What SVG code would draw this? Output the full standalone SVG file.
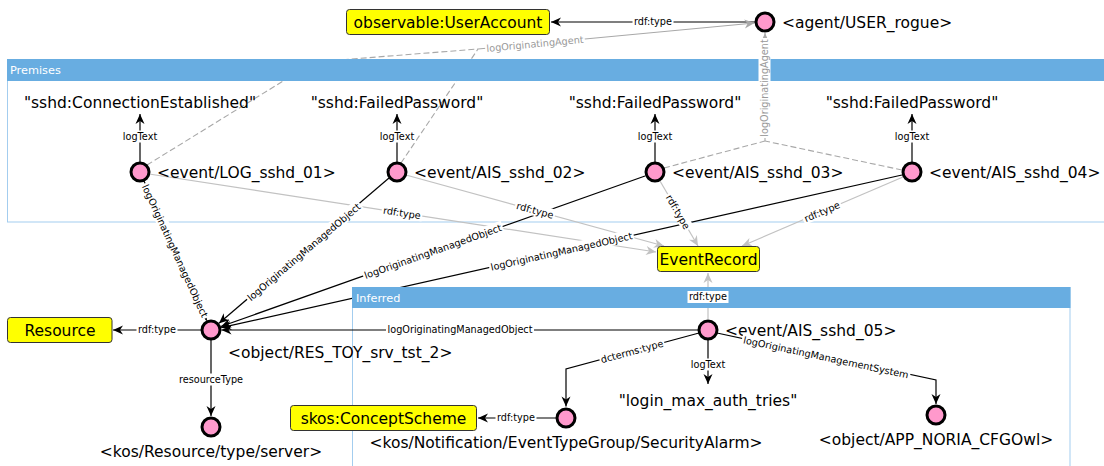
<svg xmlns="http://www.w3.org/2000/svg" width="1104" height="466" viewBox="0 0 1104 466">
<style>
text{font-family:"DejaVu Sans","Liberation Sans",sans-serif;fill:#000}
.nl{font-size:15.5px}
.bl{font-size:15.5px;text-anchor:middle}
.el{font-size:9.7px;text-anchor:middle}
.ga{fill:#999}
.cl{font-size:11.3px;fill:#fff}
.e{stroke:#000;stroke-width:1.2;fill:none}
.g{stroke:#c2c2c2;stroke-width:1.2;fill:none}
.d{stroke:#a8a8a8;stroke-width:1.1;fill:none;stroke-dasharray:6 3}
.s{stroke:#a8a8a8;stroke-width:1.1;fill:none}
.n{fill:#ff99cc;stroke:#000;stroke-width:3}
.b{fill:#ffff00;stroke:#333;stroke-width:1}
.bg{fill:#fff}
.cb{fill:none;stroke:#a3cdef;stroke-width:1}
.ch{fill:#68ade1}
</style>
<defs>
<marker id="ab" viewBox="-11 -6 12 12" refX="0" refY="0" markerWidth="12" markerHeight="12" markerUnits="userSpaceOnUse" orient="auto"><path d="M0,0 L-10,-4.5 L-7,0 L-10,4.5 Z" fill="#000"/></marker>
<marker id="ag" viewBox="-11 -6 12 12" refX="0" refY="0" markerWidth="12" markerHeight="12" markerUnits="userSpaceOnUse" orient="auto"><path d="M0,0 L-10,-4.5 L-7,0 L-10,4.5 Z" fill="#c2c2c2"/></marker>
<marker id="aa" viewBox="-11 -6 12 12" refX="0" refY="0" markerWidth="12" markerHeight="12" markerUnits="userSpaceOnUse" orient="auto"><path d="M0,0 L-10,-4.5 L-7,0 L-10,4.5 Z" fill="#a8a8a8"/></marker>
</defs>

<g id="cluster-borders">
<rect class="cb" x="7.5" y="59.5" width="1110" height="162.5"/>
<rect class="cb" x="352.5" y="287.5" width="717.5" height="200"/>
</g>

<g id="connectors">
<path class="e" d="M755,22 L551,22" marker-end="url(#ab)"/>
<path class="d" d="M147,165 L314,62 L478,49"/>
<path class="d" d="M401,163 L478,49"/>
<path class="s" d="M478,49 L754.5,23" marker-end="url(#aa)"/>
<path class="d" d="M664,168 L765,141"/>
<path class="d" d="M902,170 L765,141"/>
<path class="s" d="M765,141 L765,33" marker-end="url(#aa)"/>
<path class="e" d="M140,162 L140,114" marker-end="url(#ab)"/>
<path class="e" d="M397,162 L397,114" marker-end="url(#ab)"/>
<path class="e" d="M655,162 L655,114" marker-end="url(#ab)"/>
<path class="e" d="M912,162 L912,114" marker-end="url(#ab)"/>
<path class="g" d="M149,174 L656,252" marker-end="url(#ag)"/>
<path class="g" d="M406,175 L664,246" marker-end="url(#ag)"/>
<path class="g" d="M660,181 L698,246" marker-end="url(#ag)"/>
<path class="g" d="M903,177 L742,246" marker-end="url(#ag)"/>
<path class="g" d="M708,319 L708,273" marker-end="url(#ag)"/>
<path class="e" d="M144,181 L206.6,320.5" marker-end="url(#ab)"/>
<path class="e" d="M389,178 L219,323.2" marker-end="url(#ab)"/>
<path class="e" d="M645,176 L220.9,326.5" marker-end="url(#ab)"/>
<path class="e" d="M902,175 L221.2,327.7" marker-end="url(#ab)"/>
<path class="e" d="M698,330 L221.5,330" marker-end="url(#ab)"/>
<path class="e" d="M201,330 L113,330" marker-end="url(#ab)"/>
<path class="e" d="M211,340 L211,416" marker-end="url(#ab)"/>
<path class="e" d="M708,340 L708,384" marker-end="url(#ab)"/>
<path class="e" d="M699,333 L566,369 L566,406.5" marker-end="url(#ab)"/>
<path class="e" d="M717,333 L936,380 L936,404" marker-end="url(#ab)"/>
<path class="e" d="M556,418 L478,418" marker-end="url(#ab)"/>
</g>

<g id="cluster-headers">
<rect class="ch" x="7" y="59" width="1111" height="22"/>
<text class="cl" x="10" y="73.5">Premises</text>
<rect class="ch" x="352" y="287" width="718.5" height="21"/>
<text class="cl" x="356" y="301.5">Inferred</text>
</g>

<g id="n-useraccount"><rect class="b" x="346.5" y="9.5" width="203" height="25" rx="3"/><text class="bl" x="448" y="27.5">observable:UserAccount</text></g>
<g id="n-user-rogue"><circle class="n" cx="765" cy="22" r="9"/><text class="nl" x="782" y="27.5">&lt;agent/USER_rogue&gt;</text></g>

<g id="n-lit1"><text class="bl" x="140" y="108">"sshd:ConnectionEstablished"</text></g>
<g id="n-lit2"><text class="bl" x="397" y="108">"sshd:FailedPassword"</text></g>
<g id="n-lit3"><text class="bl" x="655" y="108">"sshd:FailedPassword"</text></g>
<g id="n-lit4"><text class="bl" x="912" y="108">"sshd:FailedPassword"</text></g>

<g id="n-log01"><circle class="n" cx="140" cy="172" r="9"/><text class="nl" x="157" y="178">&lt;event/LOG_sshd_01&gt;</text></g>
<g id="n-ais02"><circle class="n" cx="397" cy="172" r="9"/><text class="nl" x="414" y="178">&lt;event/AIS_sshd_02&gt;</text></g>
<g id="n-ais03"><circle class="n" cx="655" cy="172" r="9"/><text class="nl" x="672" y="178">&lt;event/AIS_sshd_03&gt;</text></g>
<g id="n-ais04"><circle class="n" cx="912" cy="172" r="9"/><text class="nl" x="929" y="178">&lt;event/AIS_sshd_04&gt;</text></g>

<g id="n-eventrecord"><rect class="b" x="657.5" y="246.5" width="102" height="25" rx="3"/><text class="bl" x="708.5" y="264.5">EventRecord</text></g>
<g id="n-resource"><rect class="b" x="7.5" y="317.5" width="104.5" height="25" rx="3"/><text class="bl" x="60" y="335.5">Resource</text></g>
<g id="n-res-toy"><circle class="n" cx="211" cy="330" r="9"/><text class="nl" x="228" y="358">&lt;object/RES_TOY_srv_tst_2&gt;</text></g>
<g id="n-server"><circle class="n" cx="211" cy="427" r="9"/><text class="bl" x="211" y="457">&lt;kos/Resource/type/server&gt;</text></g>
<g id="n-ais05"><circle class="n" cx="708" cy="330" r="9"/><text class="nl" x="725" y="336">&lt;event/AIS_sshd_05&gt;</text></g>
<g id="n-lit5"><text class="bl" x="708" y="406">"login_max_auth_tries"</text></g>
<g id="n-secalarm"><circle class="n" cx="566" cy="418" r="9"/><text class="bl" x="566" y="447.5">&lt;kos/Notification/EventTypeGroup/SecurityAlarm&gt;</text></g>
<g id="n-skos"><rect class="b" x="290.5" y="405.5" width="186" height="25" rx="3"/><text class="bl" x="383.5" y="423.5">skos:ConceptScheme</text></g>
<g id="n-app"><circle class="n" cx="936" cy="415" r="9"/><text class="bl" x="936" y="445">&lt;object/APP_NORIA_CFGOwl&gt;</text></g>

<g id="edge-labels">
<g transform="translate(653,22)"><rect class="bg" x="-20.5" y="-6.5" width="41" height="12"/><text class="el" y="3.4">rdf:type</text></g>
<g transform="translate(535,44) rotate(-5.3)"><rect class="bg" x="-50" y="-6.5" width="100" height="12"/><text class="el ga" y="3.4">logOriginatingAgent</text></g>
<g transform="translate(765,88) rotate(-90)"><rect class="bg" x="-50" y="-6.5" width="100" height="12"/><text class="el ga" y="3.4">logOriginatingAgent</text></g>
<g transform="translate(140,137)"><rect class="bg" x="-19" y="-6.5" width="38" height="12"/><text class="el" y="3.4">logText</text></g>
<g transform="translate(397,137)"><rect class="bg" x="-19" y="-6.5" width="38" height="12"/><text class="el" y="3.4">logText</text></g>
<g transform="translate(655,137)"><rect class="bg" x="-19" y="-6.5" width="38" height="12"/><text class="el" y="3.4">logText</text></g>
<g transform="translate(912,137)"><rect class="bg" x="-19" y="-6.5" width="38" height="12"/><text class="el" y="3.4">logText</text></g>
<g transform="translate(402,213) rotate(8.75)"><rect class="bg" x="-20.5" y="-6.5" width="41" height="12"/><text class="el" y="3.4">rdf:type</text></g>
<g transform="translate(535,210.5) rotate(15.4)"><rect class="bg" x="-20.5" y="-6.5" width="41" height="12"/><text class="el" y="3.4">rdf:type</text></g>
<g transform="translate(678,212) rotate(59.7)"><rect class="bg" x="-20.5" y="-6.5" width="41" height="12"/><text class="el" y="3.4">rdf:type</text></g>
<g transform="translate(822,211.7) rotate(-23.2)"><rect class="bg" x="-20.5" y="-6.5" width="41" height="12"/><text class="el" y="3.4">rdf:type</text></g>
<g transform="translate(708,297)"><rect class="bg" x="-20.5" y="-6" width="41" height="12"/><text class="el" y="3.4">rdf:type</text></g>
<g transform="translate(175,251) rotate(65.4)"><rect class="bg" x="-74" y="-6.5" width="148" height="12"/><text class="el" y="3.4">logOriginatingManagedObject</text></g>
<g transform="translate(304,252) rotate(-40.3)"><rect class="bg" x="-74" y="-6.5" width="148" height="12"/><text class="el" y="3.4">logOriginatingManagedObject</text></g>
<g transform="translate(433,251.5) rotate(-19.5)"><rect class="bg" x="-74" y="-6.5" width="148" height="12"/><text class="el" y="3.4">logOriginatingManagedObject</text></g>
<g transform="translate(561.5,251.5) rotate(-12.6)"><rect class="bg" x="-74" y="-6.5" width="148" height="12"/><text class="el" y="3.4">logOriginatingManagedObject</text></g>
<g transform="translate(460,330)"><rect class="bg" x="-74" y="-6.5" width="148" height="12"/><text class="el" y="3.4">logOriginatingManagedObject</text></g>
<g transform="translate(157,330)"><rect class="bg" x="-20.5" y="-6.5" width="41" height="12"/><text class="el" y="3.4">rdf:type</text></g>
<g transform="translate(211,380)"><rect class="bg" x="-34" y="-6.5" width="68" height="12"/><text class="el" y="3.4">resourceType</text></g>
<g transform="translate(708,365)"><rect class="bg" x="-19" y="-6.5" width="38" height="12"/><text class="el" y="3.4">logText</text></g>
<g transform="translate(632,351.5) rotate(-15.1)"><rect class="bg" x="-33.5" y="-6.5" width="67" height="12"/><text class="el" y="3.4">dcterms:type</text></g>
<g transform="translate(826,357.5) rotate(12.1)"><rect class="bg" x="-86" y="-6.5" width="172" height="12"/><text class="el" y="3.4">logOriginatingManagementSystem</text></g>
<g transform="translate(516,418)"><rect class="bg" x="-20.5" y="-6.5" width="41" height="12"/><text class="el" y="3.4">rdf:type</text></g>
</g>
</svg>
